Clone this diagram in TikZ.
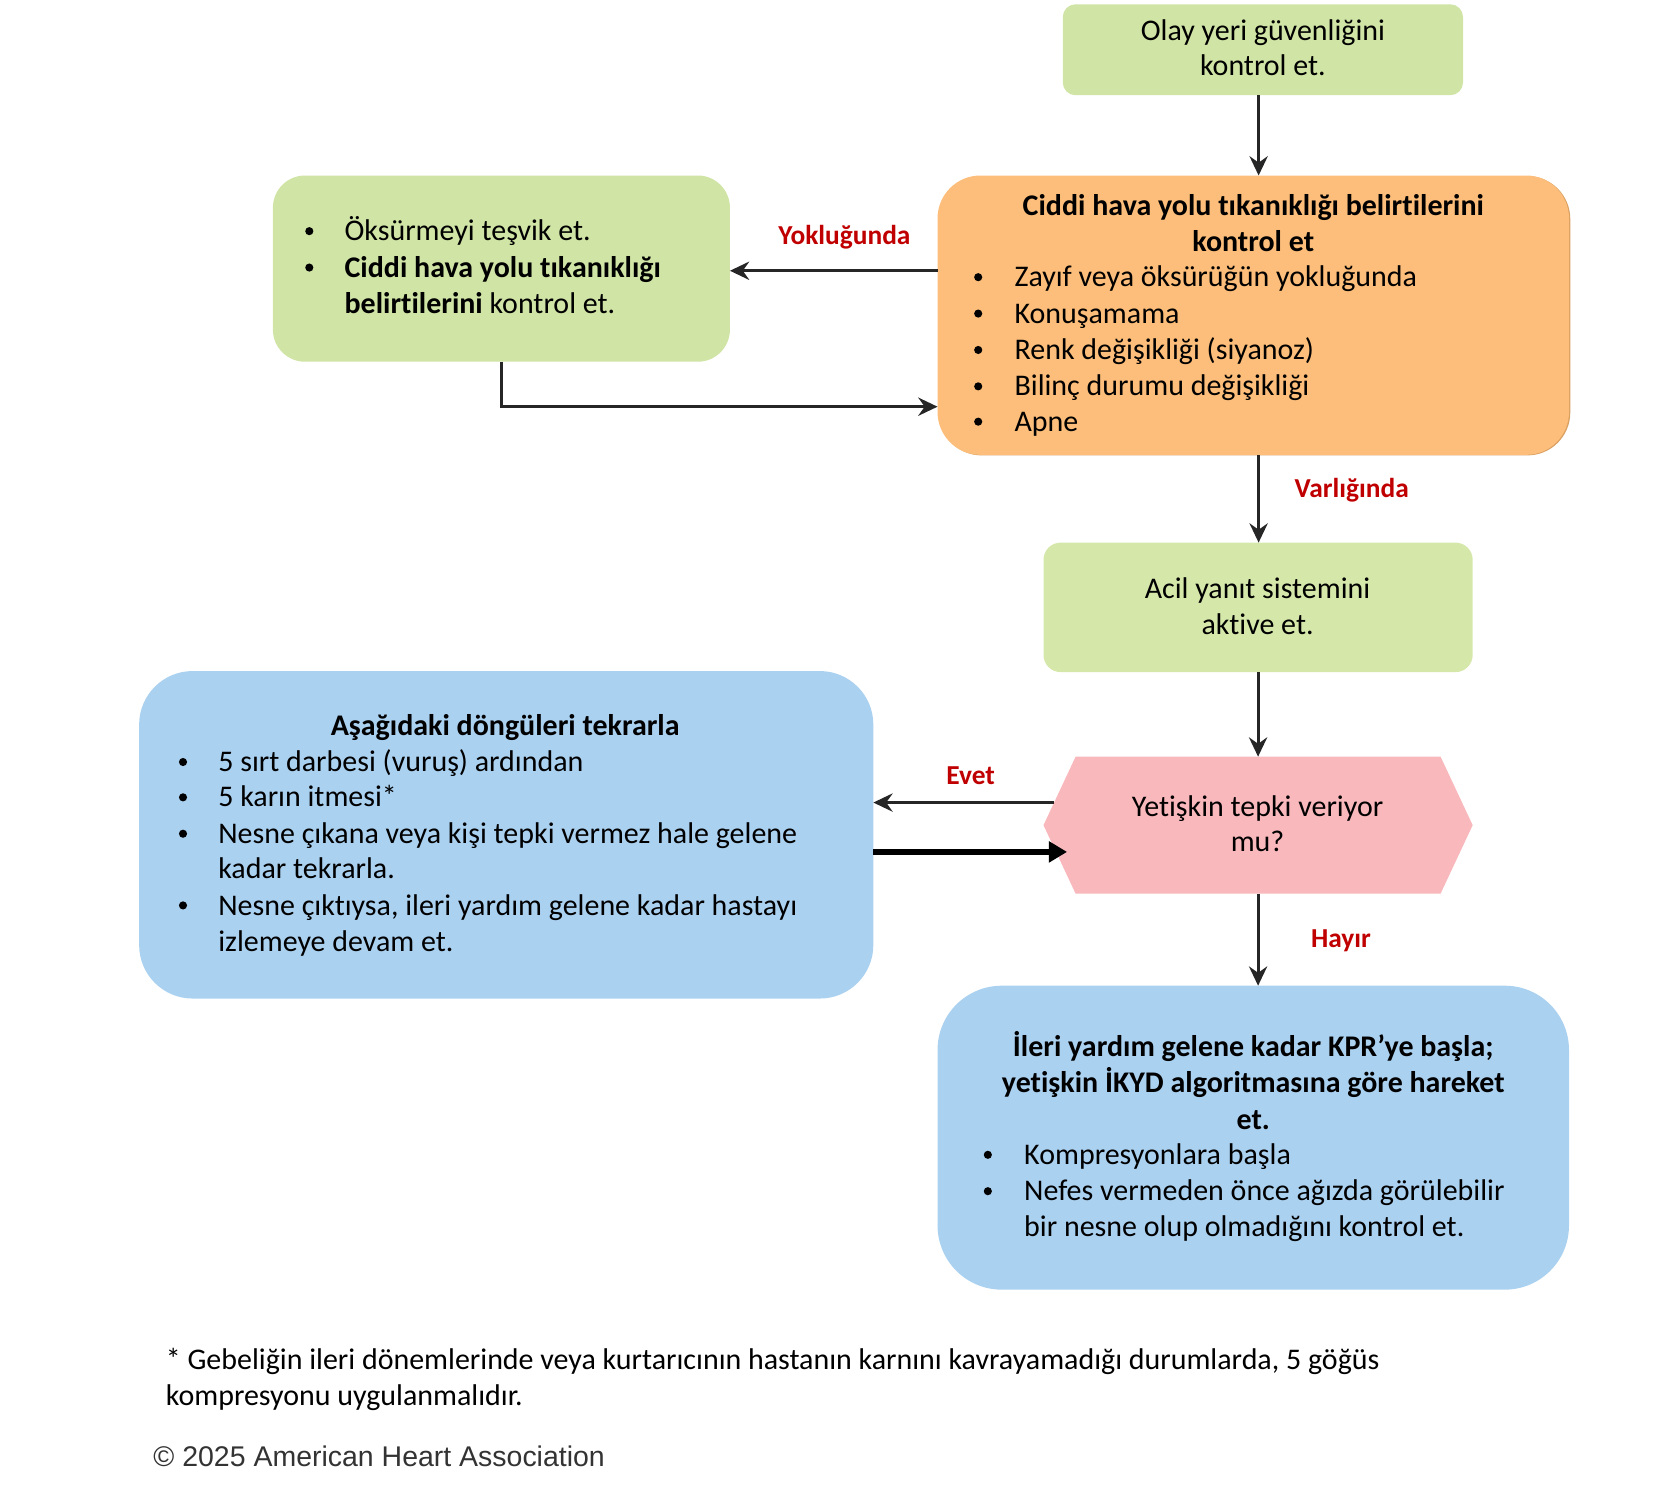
\documentclass[tikz,border=0pt]{standalone}
\usepackage{fontspec}
\setmainfont{Carlito}[Ligatures=NoCommon]
\newfontfamily\ahafont{Liberation Sans}
\usetikzlibrary{arrows.meta,calc}
\definecolor{grn}{HTML}{CFE4A5}
\definecolor{grn2}{HTML}{D5E8AA}
\definecolor{org}{HTML}{FCBE7A}
\definecolor{orgsh}{HTML}{D9A062}
\definecolor{pnk}{HTML}{F8B8BC}
\definecolor{blu}{HTML}{ABD1F0}
\definecolor{lbl}{HTML}{C00000}
\definecolor{arrc}{HTML}{262626}
\definecolor{cpr}{HTML}{333333}
\newcommand\Tl[4]{\node[txt,anchor=base west] (#1) at (#2,#3+8) {#4};}
\newcommand\Tc[4]{\node[txt,anchor=base] (#1) at (#2,#3+8) {#4};}
\newcommand\Tb[4]{\node[txt,anchor=base,font=\fontsize{14}{17}\selectfont\bfseries] (#1) at (#2,#3+8) {#4};}
\newcommand\Bu[3]{\node[bul] (#1) at (#2,#3-1) {};}
\begin{document}
\begin{tikzpicture}[x=0.5pt,y=-0.5pt,
  box/.style={rectangle,inner sep=0pt,outer sep=0pt},
  txt/.style={inner sep=0pt,outer sep=0pt,font=\fontsize{14}{17}\selectfont},
  bul/.style={circle,fill=black,inner sep=0pt,minimum size=3.8pt},
  lab/.style={inner sep=0pt,outer sep=0pt,anchor=base,text=lbl,font=\fontsize{12.8}{15}\selectfont\bfseries},
  conn/.style={draw=arrc,line width=1.45pt,-{Stealth[length=9pt,width=8.5pt,inset=3pt]}},
  thickconn/.style={draw=black,line width=2.6pt,-{Triangle[length=8.5pt,width=9.5pt]}},
]
\useasboundingbox (0,0) rectangle (1566,1405.6);

% boxes
\node[box,fill=grn,rounded corners=6pt,minimum width=187pt,minimum height=42.5pt] (top) at (1180,46.5) {};
\node[box,fill=orgsh,rounded corners=20pt,minimum width=295pt,minimum height=130.5pt] (orangesh) at (1172.2,295) {};
\node[box,fill=org,rounded corners=20pt,minimum width=295pt,minimum height=130.5pt] (orange) at (1171,294.5) {};
\node[box,fill=grn,rounded corners=15pt,minimum width=213.5pt,minimum height=87pt] (lg) at (468.5,251) {};
\node[box,fill=grn2,rounded corners=8pt,minimum width=200.5pt,minimum height=60.5pt] (acil) at (1175.5,567.5) {};
\node[box,minimum width=200.5pt,minimum height=64pt] (hex) at (1175.5,771) {};
\fill[pnk] (hex.west) -- ([xshift=15pt]hex.north west) -- ([xshift=-15pt]hex.north east) -- (hex.east) -- ([xshift=-15pt]hex.south east) -- ([xshift=15pt]hex.south west) -- cycle;
\node[box,fill=blu,rounded corners=25pt,minimum width=343pt,minimum height=153pt] (bl) at (473,780) {};
\node[box,fill=blu,rounded corners=30pt,minimum width=295pt,minimum height=142pt] (bb) at (1171,1063) {};

% connectors
\draw[conn] ([xshift=-2pt]top.south) -- ([xshift=2.5pt]orange.north);
\draw[conn] ([yshift=20.75pt]orange.west) -- ([yshift=20.75pt]orange.west -| lg.east);
\draw[conn] (lg.south) |- ([yshift=-42.75pt]orange.west);
\draw[conn] ([xshift=2.5pt]orange.south) -- ([xshift=0.25pt]acil.north);
\draw[conn] (acil.south) -- (hex.north);
\coordinate (evs) at ($(hex.west)!0.33!([xshift=15pt]hex.north west)$);
\draw[conn] (evs) -- (evs -| bl.east);
\coordinate (thk) at ([yshift=-8pt]bl.east);
\draw[thickconn] (thk) -- ($(thk -| hex.west)+(22,0)$);
\draw[conn] (hex.south) -- ([xshift=2.25pt]bb.north);

% labels
\node[lab] (lyok) at (789,228) {Yokluğunda};
\node[lab] (lvar) at (1263,465) {Varlığında};
\node[lab] (levt) at (907,733) {Evet};
\node[lab] (lhay) at (1253,885) {Hayır};

% top box
\Tc{t1}{1180}{30}{Olay yeri güvenliğini}
\Tc{t2}{1180}{63}{kontrol et.}

% orange box
\Tb{o1}{1171}{193}{Ciddi hava yolu tıkanıklığı belirtilerini}
\Tb{o2}{1171}{227}{kontrol et}
\Bu{ob1}{914}{260}\Tl{ot1}{948}{260}{Zayıf veya öksürüğün yokluğunda}
\Bu{ob2}{914}{294}\Tl{ot2}{948}{294}{Konuşamama}
\Bu{ob3}{914}{328}\Tl{ot3}{948}{328}{Renk değişikliği (siyanoz)}
\Bu{ob4}{914}{362}\Tl{ot4}{948}{362}{Bilinç durumu değişikliği}
\Bu{ob5}{914}{395}\Tl{ot5}{948}{395}{Apne}

% left green box
\Bu{gb1}{289}{217}\Tl{gt1}{322}{217}{Öksürmeyi teşvik et.}
\Bu{gb2}{289}{251}\Tl{gt2}{322}{251}{\textbf{Ciddi hava yolu tıkanıklığı}}
\Tl{gt3}{322}{285}{\textbf{belirtilerini} kontrol et.}

% acil
\Tc{a1}{1175}{551}{Acil yanıt sistemini}
\Tc{a2}{1175}{585}{aktive et.}

% hexagon
\Tc{h1}{1175}{755}{Yetişkin tepki veriyor}
\Tc{h2}{1175}{788}{mu?}

% blue left
\Tb{b0}{472}{679}{Aşağıdaki döngüleri tekrarla}
\Bu{bb1}{171}{713}\Tl{bt1}{204}{713}{5 sırt darbesi (vuruş) ardından}
\Bu{bb2}{171}{746}\Tl{bt2}{204}{746}{5 karın itmesi*}
\Bu{bb3}{171}{780}\Tl{bt3}{204}{780}{Nesne çıkana veya kişi tepki vermez hale gelene}
\Tl{bt4}{204}{813}{kadar tekrarla.}
\Bu{bb5}{171}{847}\Tl{bt5}{204}{847}{Nesne çıktıysa, ileri yardım gelene kadar hastayı}
\Tl{bt6}{204}{881}{izlemeye devam et.}

% blue bottom
\Tb{c1}{1171}{979}{İleri yardım gelene kadar KPR’ye başla;}
\Tb{c2}{1171}{1013}{yetişkin İKYD algoritmasına göre hareket}
\Tb{c3}{1171}{1047}{et.}
\Bu{cb1}{923}{1080}\Tl{ct1}{957}{1080}{Kompresyonlara başla}
\Bu{cb2}{923}{1114}\Tl{ct2}{957}{1114}{Nefes vermeden önce ağızda görülebilir}
\Tl{ct3}{957}{1147}{bir nesne olup olmadığını kontrol et.}

% footnote
\Tl{f1}{155}{1272}{* Gebeliğin ileri dönemlerinde veya kurtarıcının hastanın karnını kavrayamadığı durumlarda, 5 göğüs}
\Tl{f2}{155}{1305}{kompresyonu uygulanmalıdır.}
\node[inner sep=0pt,anchor=base west,text=cpr,font=\ahafont\fontsize{13.3}{16}\selectfont] (cp) at (143,1370) {© 2025 American Heart Association};
\end{tikzpicture}
\end{document}
